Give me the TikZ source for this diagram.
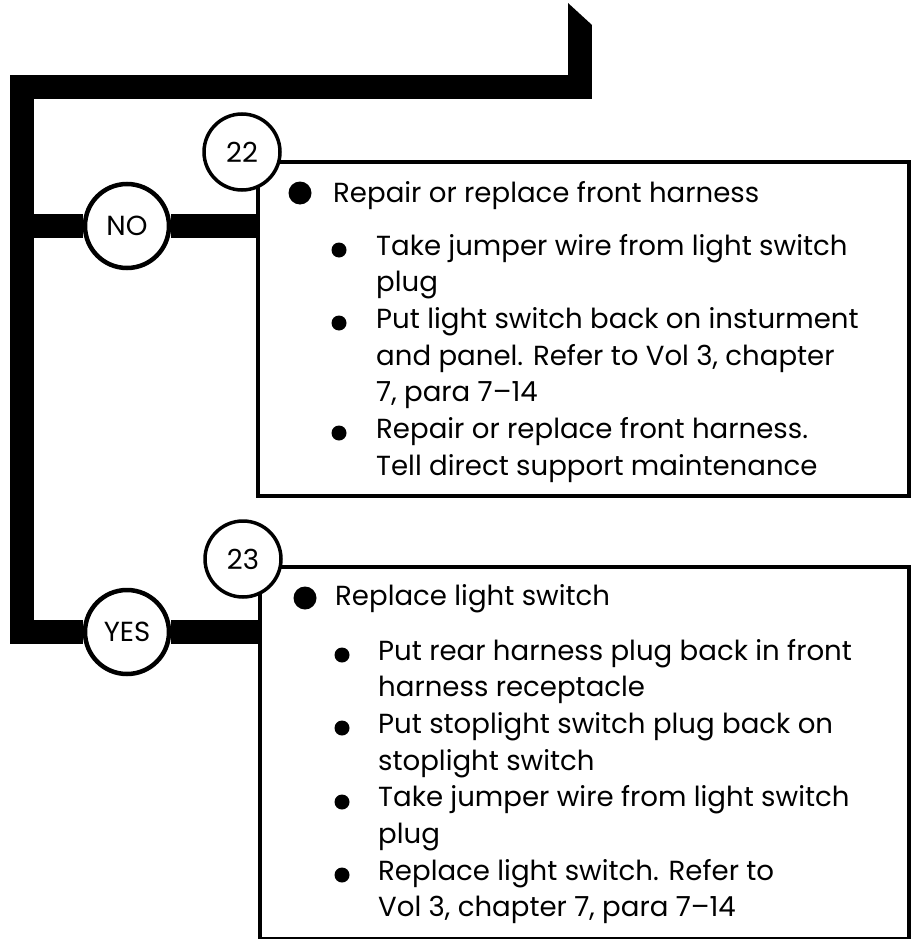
\documentclass[tikz,border=0pt]{standalone}
\usepackage{fontspec}
\setmainfont{Poppins}
\usetikzlibrary{backgrounds}
\newcommand{\bodyfont}{\fontsize{27.6}{36.7}\selectfont}
\tikzset{
  stepbox/.style={draw, line width=3.5pt, anchor=north west, inner sep=0pt},
  numcirc/.style={circle, draw, fill=white, line width=3.5pt, minimum size=76pt,
                  inner sep=0pt, font=\bodyfont},
  anscirc/.style={circle, draw, fill=white, line width=4.5pt, minimum size=84pt,
                  inner sep=0pt, font=\bodyfont},
  txt/.style={anchor=base west, inner sep=0pt, font=\bodyfont},
  flowline/.style={line width=24pt, line join=miter},
}
\begin{document}
\begin{tikzpicture}[x=1pt, y=-1pt]
  \useasboundingbox (0,0) rectangle (911,939);

  %% Step boxes
  \node[stepbox, minimum width=651pt, minimum height=334pt] (box22) at (256,160) {};
  \node[stepbox, minimum width=649pt, minimum height=372pt] (box23) at (258,565) {};

  %% Step numbers
  \node[numcirc] (n22) at (242,152) {22};
  \node[numcirc] (n23) at (243,559) {23};

  %% Answers
  \node[anscirc] (no) at (127,226) {NO};
  \node[anscirc] (yes) at (127,632) {YES};

  %% Flow line from the previous step
  \coordinate (entry) at (580,25);
  \coordinate (bend) at (22,87);
  \begin{scope}[on background layer]
    \fill (568,25) -- (568,3) -- (592,25) -- cycle;
    \draw[flowline] (entry) |- (bend) |- (yes);
    \draw[flowline] (bend |- no) -- (no);
    \draw[flowline] (no) -- (box22.west |- no);
    \draw[flowline] (yes) -- (box23.west |- yes);
  \end{scope}

  %% Step 22 text
  \fill (300,193) circle (11.5);
  \node[txt] (head22) at (333,202) {Repair or replace front harness};
  \node[txt] (list22) at (376,255) {\begin{tabular}[t]{@{}l@{}}
    Take jumper wire from light switch\\
    plug\\
    Put light switch back on insturment\\
    and panel. Refer to Vol 3, chapter\\
    7, para 7--14\\
    Repair or replace front harness.\\
    Tell direct support maintenance
  \end{tabular}};
  \foreach \y in {250,323,433}
    \fill (339,\y) circle (7.5);

  %% Step 23 text
  \fill (305,598) circle (11.5);
  \node[txt] (head23) at (335,605) {Replace light switch};
  \node[txt] (list23) at (378,660) {\begin{tabular}[t]{@{}l@{}}
    Put rear harness plug back in front\\
    harness receptacle\\
    Put stoplight switch plug back on\\
    stoplight switch\\
    Take jumper wire from light switch\\
    plug\\
    Replace light switch. Refer to\\
    Vol 3, chapter 7, para 7--14
  \end{tabular}};
  \foreach \y in {655,728,802,875}
    \fill (342,\y) circle (7.5);

\end{tikzpicture}
\end{document}
